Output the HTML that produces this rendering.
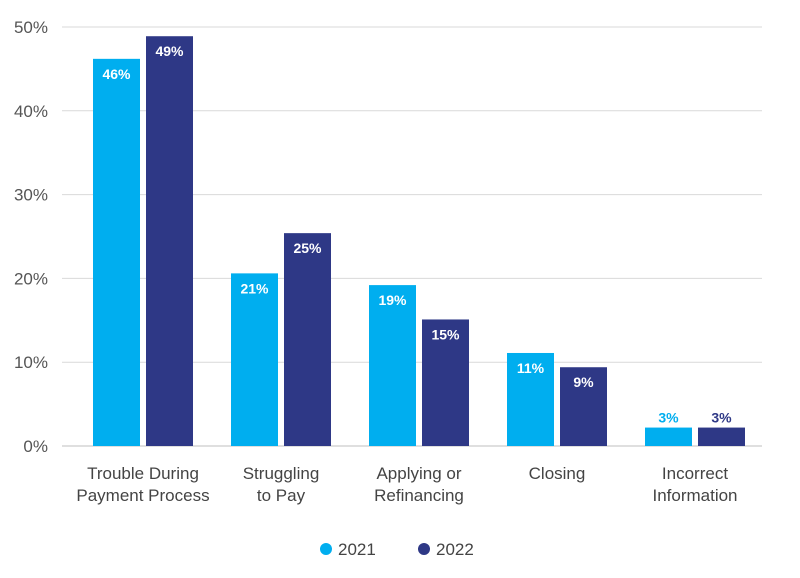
<!DOCTYPE html>
<html><head><meta charset="utf-8"><style>
body{margin:0;background:#fff;font-family:"Liberation Sans",sans-serif}
svg{display:block}
</style></head><body>
<svg id="chart" width="800" height="578" xmlns="http://www.w3.org/2000/svg"></svg>
<script>
const categories=[["Trouble During","Payment Process"],["Struggling","to Pay"],["Applying or","Refinancing"],["Closing"],["Incorrect","Information"]];
const series2021=[46.2,20.6,19.2,11.1,2.2];
const series2022=[48.9,25.4,15.1,9.4,2.2];
const labels2021=["46%","21%","19%","11%","3%"];
const labels2022=["49%","25%","15%","9%","3%"];
const yTicks=[0,10,20,30,40,50];
const yTickLabels=["0%","10%","20%","30%","40%","50%"];
const C1="#00aeef",C2="#2e3886";
const svg=document.getElementById('chart');
const NS="http://www.w3.org/2000/svg";
const y0=446,pxPer=8.38;
const y=v=>y0-v*pxPer;
const xGroup=i=>93+i*138;
const bw=47,gap=6;
function mk(t,a,txt){const e=document.createElementNS(NS,t);for(const k in a)e.setAttribute(k,a[k]);if(txt!==undefined)e.textContent=txt;svg.appendChild(e);return e;}
yTicks.forEach((t,i)=>{
 const g=mk('line',{x1:62,x2:762,y1:y(t),y2:y(t),stroke:i===0?'#bfbfbf':'#d9d9d9','stroke-width':1});
 
 
 const l=mk('text',{x:48,y:y(t)+6,'text-anchor':'end','font-size':17,fill:'#555'},yTickLabels[i]);
 
 
});
categories.forEach((c,i)=>{
 const x=xGroup(i);
 [[series2021,labels2021,C1,0,'2021'],[series2022,labels2022,C2,bw+gap,'2022']].forEach(([s,lb,col,off,yr])=>{
  const r=mk('rect',{x:x+off,y:y(s[i]),width:bw,height:s[i]*pxPer,fill:col});
  
  
  const small=s[i]<5;
  const t=mk('text',{x:x+off+bw/2,y:small?y(s[i])-5:y(s[i])+20,'text-anchor':'middle','font-size':14,'font-weight':'bold',fill:small?col:'#fff'},lb[i]);
  
  
 });
 c.forEach((line,j)=>{
  const t=mk('text',{x:x+bw+gap/2,y:479+j*22,'text-anchor':'middle','font-size':17,fill:'#444'},line);
  
  
 });
});
[[C1,'2021',326],[C2,'2022',424]].forEach(([col,txt,x])=>{
 const c=mk('circle',{cx:x,cy:549,r:6,fill:col});
 
 
 const t=mk('text',{x:x+12,y:555,'font-size':17,fill:'#444'},txt);
 
 
});
</script>
</body></html>
